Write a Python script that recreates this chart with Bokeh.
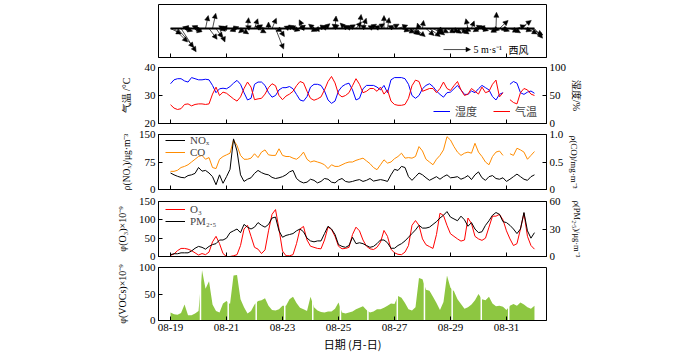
import numpy as np
from bokeh.plotting import figure
from bokeh.models import (Range1d, LinearAxis, FixedTicker, Legend, LegendItem,
                          Arrow, NormalHead, ColumnDataSource, Label)
from bokeh.layouts import column
from bokeh.embed import file_html
from bokeh.resources import INLINE

nan = float("nan")

# ---------------- data ----------------
tick_days = [0, 2, 4, 6, 8, 10, 12]
tick_labels = ["08-19", "08-21", "08-23", "08-25", "08-27", "08-29", "08-31"]

n_steps = 105            # 3-hourly samples, 08-19 00:00 .. 09-01 00:00
step_hours = 3
t = np.arange(n_steps) * step_hours / 24.0   # days since 08-19 00:00

temp = [26.7, 25.5, 25.0, 25.3, 26.8, 27.0, 26.3, 26.8, 27.0, 27.0,
        26.8, 27.0, 30.5, 33.0, 30.0, 31.2, 30.8, 29.8, 28.8, 28.0,
        29.5, 32.5, 34.8, 33.0, 28.5, 28.8, 29.0, 30.5, 32.8, 34.2,
        33.5, 30.0, 28.5, 29.8, 30.5, 31.5, 33.5, 35.0, 34.5, 31.5,
        29.0, 28.3, 28.8, 29.5, 32.0, 35.0, 36.8, 34.5, 30.5, 29.5,
        30.0, 31.0, 33.5, 36.0, 34.0, 31.0, 31.5, 32.5, 32.5, 31.5,
        33.0, 30.5, 32.0, 28.0, 26.8, 26.5, 26.5, 26.8, 29.0, 33.5,
        35.5, 35.0, 31.5, 32.0, 32.5, 32.5, 31.0, 32.5, 34.8, 32.5,
        31.8, 33.5, 35.0, 32.0, 30.0, 30.5, 32.5, 31.5, 30.5, 33.0,
        31.0, 31.5, 34.0, 35.5, 29.5, 31.0, nan, 28.5, 27.5, 27.0,
        31.0, 32.5, 32.0, 30.5, 30.0]

humidity = [71, 78, 80, 80, 76, 74, 82, 80, 78, 78,
            79, 78, 68, 55, 62, 63, 62, 66, 72, 77,
            70, 55, 42, 45, 70, 74, 74, 68, 55, 47,
            50, 60, 64, 64, 66, 62, 52, 42, 40, 48,
            65, 70, 70, 68, 58, 42, 36, 40, 58, 66,
            70, 72, 60, 42, 45, 62, 68, 68, 68, 65,
            60, 68, 55, 78, 82, 82, 82, 80, 70, 50,
            45, 50, 62, 68, 71, 66, 58, 52, 47, 55,
            56, 62, 68, 60, 52, 52, 58, 55, 62, 68,
            64, 60, 48, 42, 52, 55, nan, 70, 75, 72,
            55, 52, 56, 58, 54]

nox = [45, 40, 36, 33, 32, 38, 40, 44, 60, 50,
       52, 45, 35, 13, 40, 17, 35, 55, 138, 105,
       40, 22, 28, 32, 44, 52, 46, 42, 40, 33,
       30, 32, 35, 40, 48, 52, 30, 22, 18, 20,
       28, 25, 18, 22, 30, 28, 20, 18, 26, 30,
       22, 20, 22, 25, 27, 22, 25, 30, 23, 25,
       27, 25, 22, 40, 55, 52, 63, 60, 35, 25,
       35, 45, 40, 32, 25, 30, 35, 28, 35, 40,
       32, 33, 35, 28, 32, 38, 27, 40, 48, 32,
       25, 35, 38, 30, 28, 32, 22, 28, 35, 42,
       35, 28, 25, 35, 40]

co = [0.33, 0.33, 0.35, 0.40, 0.42, 0.45, 0.50, 0.55, 0.60, 0.62,
      0.55, 0.58, 0.40, 0.38, 0.55, 0.60, 0.63, 0.66, 0.90, 0.80,
      0.62, 0.55, 0.55, 0.57, 0.65, 0.58, 0.68, 0.72, 0.63, 0.62,
      0.62, 0.74, 0.62, 0.60, 0.60, 0.57, 0.55, 0.60, 0.68, 0.55,
      0.50, 0.52, 0.50, 0.48, 0.45, 0.38, 0.45, 0.42, 0.42, 0.45,
      0.48, 0.50, 0.50, 0.53, 0.55, 0.57, 0.52, 0.47, 0.40, 0.36,
      0.45, 0.54, 0.48, 0.50, 0.56, 0.60, 0.66, 0.57, 0.58, 0.57,
      0.60, 0.78, 0.70, 0.55, 0.50, 0.45, 0.55, 0.62, 0.72, 0.96,
      0.90, 0.78, 0.68, 0.62, 0.66, 0.68, 0.66, 0.84, 0.68, 0.60,
      0.50, 0.45, 0.60, 0.68, 0.70, 0.62, nan, 0.65, 0.62, 0.75,
      0.72, 0.68, 0.55, 0.62, 0.69]

o3 = [3, 7, 16, 22, 22, 20, 16, 10, 4, 8,
      5, 12, 40, 55, 35, 8, 0, 0, 2, 5,
      30, 75, 85, 55, 25, 20, 8, 18, 70, 115,
      128, 75, 15, 2, 2, 5, 35, 75, 82, 45,
      28, 25, 22, 21, 45, 80, 74, 55, 28, 21,
      22, 25, 60, 80, 70, 45, 28, 21, 19, 25,
      39, 71, 55, 20, 10, 6, 5, 12, 30, 85,
      98, 85, 48, 32, 27, 22, 60, 118, 112, 85,
      62, 55, 48, 42, 45, 105, 90, 55, 48, 44,
      50, 80, 110, 110, 115, 100, 70, 48, 30, 35,
      75, 118, 55, 30, 20]

pm25 = [2, 3, 3, 4, 4, 4, 6, 9, 11, 10,
        8, 11, 13, 14, 18, 18, 20, 26, 28, 30,
        26, 35, 32, 30, 32, 37, 34, 32, 35, 42,
        43, 28, 21, 23, 24, 25, 28, 30, 27, 20,
        17, 16, 17, 17, 25, 33, 30, 24, 13, 11,
        10, 12, 21, 14, 15, 14, 12, 10, 11, 14,
        18, 18, 15, 9, 9, 12, 14, 17, 21, 25,
        29, 34, 31, 31, 32, 35, 38, 42, 45, 49,
        43, 41, 39, 44, 40, 33, 37, 30, 26, 27,
        34, 39, 45, 48, 46, 38, 37, 34, 30, 25,
        30, 48, 28, 20, 26]

vocs = [15, 12, 11, 14, 30, 10, 10, 13, 18, 95,
        60, 74, 30, 18, 15, 32, 37, 31, 85, 86,
        40, 25, 13, 18, 30, 37, 38, 42, 28, 20,
        19, 21, 28, 28, 40, 45, 33, 24, 21, 18,
        45, 25, 19, 16, 15, 17, 17, 22, 34, 15,
        13, 15, 17, 21, 24, 27, 20, 15, 17, 21,
        21, 24, 28, 32, 31, 46, 43, 33, 21, 19,
        25, 80, 78, 58, 56, 45, 33, 20, 35, 85,
        62, 55, 40, 31, 22, 25, 30, 38, 50, 40,
        38, 45, 32, 27, 28, 26, 20, 28, 31, 28,
        34, 30, 25, 22, 28]

# times (days since 08-19 00:00) with missing VOC samples
voc_gap_days = [1.07, 2.06, 3.06, 4.08, 5.08, 6.07, 7.05, 8.10, 9.07, 10.06, 11.10, 12.08]

# wind components (m/s): u eastward (west wind > 0), v northward
wind_u = [2.0, 2.5, 3.0, 2.8, 1.5, -1.0, -1.5, 1.2, -1.2, -1.0,
          0.5, 1.5, 0.6, 1.2, 1.0, -0.8, -1.2, -1.5, 1.0, -1.3,
          1.5, -1.0, 0.2, -1.0, 0.6, 1.5, -1.2, -1.5, 0.0, 0.8,
          1.5, 1.0, -1.2, 1.5, -1.0, 1.3, -1.2, 1.0, -0.8, -1.4,
          1.2, -1.0, 1.5, -1.3, 1.0, -1.2, 1.4, 0.2, -1.2, 1.3,
          -1.0, 1.2, -1.3, 1.0, 0.3, 0.6, -1.1, 1.2, -1.0, 1.4,
          -1.2, 0.0, 0.3, 1.5, -1.2, 1.8, 1.5, 1.8, 2.0, 1.6,
          1.8, -0.3, 0.2, 1.5, 2.0, 1.8, 1.5, 1.6, -1.2, 1.5,
          1.6, 1.4, 1.8, 1.5, 1.2, -0.4, 0.5, 1.3, -1.0, 1.2,
          -1.1, 1.4, 1.3, 0.1, 1.6, 1.2, -1.0, 1.5, 1.3, 1.6,
          2.0, 1.4, 1.8, 2.2, 1.5]
wind_v = [-1.0, -2.5, -3.5, -4.3, -0.5, 0.3, 0.2, -0.3, 0.5, -0.8,
          2.4, -2.0, 2.8, -1.7, -2.5, 0.5, -0.3, 0.2, 0.3, -0.5,
          -1.0, -0.8, 2.0, 0.5, 1.8, -0.8, 0.4, 0.6, 1.2, 1.9,
          -3.8, -1.5, -0.5, 0.5, 0.4, -0.4, 0.3, 0.6, 1.6, 0.2,
          -0.5, 0.8, 0.5, -0.3, 0.9, 0.4, 0.6, 2.3, 0.8, 0.5,
          1.0, 0.7, 0.4, 1.2, 2.6, 1.9, 0.6, 0.8, 0.5, 0.9,
          0.4, 2.4, 2.0, 0.8, 0.5, 0.6, -0.5, -0.8, -1.0, -1.2,
          -1.5, 1.0, 1.5, -1.3, -1.5, -1.0, -1.2, -0.8, -0.5, -0.8,
          -0.6, -0.9, -0.7, -1.0, -0.5, 1.8, 1.4, 0.5, -0.6, -0.4,
          0.4, -0.7, -0.3, 3.0, 1.5, -0.5, -0.3, -0.6, -0.8, 0.6,
          1.5, -0.5, -1.0, -1.2, -1.8]
key_speed = 5  # m/s reference arrow

# ---------------- style ----------------
SERIF = "Liberation Serif"
CJK = "Noto Sans CJK SC"
RED = "#ff0000"
BLUE = "#0000ff"
ORANGE = "#ff8c00"
GREEN = "#8dc641"

WIND_K = 0.193  # days of x per m/s so that arrows keep equal x/y scale
X0, X1 = -0.43, 13.43

xr = Range1d(X0, X1)


def style_axis(ax, ticks, labels=True, font_size="11px"):
    ax.ticker = FixedTicker(ticks=ticks)
    ax.major_tick_in = 4
    ax.major_tick_out = 0
    ax.minor_tick_line_color = None
    ax.axis_line_color = "black"
    ax.major_tick_line_color = "black"
    ax.major_label_text_font = SERIF
    ax.major_label_text_font_size = font_size
    ax.axis_label_text_font = SERIF
    ax.axis_label_text_font_size = "10px"
    ax.axis_label_text_font_style = "normal"
    ax.axis_label_text_color = "black"
    if labels:
        ax.major_label_text_color = "black"
        ax.major_label_standoff = 3
    else:
        ax.major_label_text_color = None
        ax.major_label_standoff = -30


def base_fig(height, top, bottom, y0, y1, show_xlabels=False):
    p = figure(width=700, height=height, x_range=xr, y_range=Range1d(y0, y1),
               output_backend="svg", toolbar_location=None, title=None,
               min_border_left=158, min_border_right=154,
               min_border_top=top, min_border_bottom=bottom)
    p.xgrid.visible = False
    p.ygrid.visible = False
    p.outline_line_color = "black"
    p.outline_line_width = 1
    p.outline_line_alpha = 1
    p.background_fill_color = "white"
    p.border_fill_color = "white"
    xa = p.xaxis[0]
    style_axis(xa, tick_days, labels=show_xlabels)
    xa.major_label_overrides = {d: l for d, l in zip(tick_days, tick_labels)}
    return p


def right_axis(p, rng, ticks, title, standoff, size="10px"):
    p.extra_y_ranges = {"r": rng}
    ax = LinearAxis(y_range_name="r")
    style_axis(ax, ticks)
    ax.axis_label = title
    ax.axis_label_standoff = standoff
    ax.axis_label_text_font_size = size
    p.add_layout(ax, "right")
    return ax


def legend(items, loc, orientation="vertical", font=SERIF, spacing=0, glyph_w=20, lh=10):
    lg = Legend(items=items, location=loc, orientation=orientation,
                label_text_font=font, label_text_font_size="11px",
                glyph_width=glyph_w, glyph_height=lh, label_height=lh, label_width=30,
                label_standoff=5, spacing=spacing, padding=0, margin=0,
                border_line_alpha=0, background_fill_alpha=0)
    return lg


# ---- panel 1: wind vectors ----
p1 = base_fig(62, 4, 5, -5.37, 4.44)
p1.yaxis.visible = False
p1.line(t, np.zeros(n_steps), line_color="black", line_width=2.2)
src = ColumnDataSource(dict(
    x0=t, y0=np.zeros(n_steps),
    x1=t + np.array(wind_u) * WIND_K, y1=np.array(wind_v)))
p1.add_layout(Arrow(end=NormalHead(size=5, fill_color="black", line_color="black", line_width=0.5),
                    x_start="x0", y_start="y0", x_end="x1", y_end="y1", source=src,
                    line_color="black", line_width=0.7))
key_x, key_y = 9.75, -3.9
p1.add_layout(Arrow(end=NormalHead(size=4.5, fill_color="black", line_color="black", line_width=0.5),
                    x_start=key_x, y_start=key_y, x_end=key_x + key_speed * WIND_K, y_end=key_y,
                    line_color="black", line_width=0.7))
p1.add_layout(Label(x=10.82, y=key_y, text="5 m·s⁻¹", text_font=SERIF, text_font_size="10px",
                    text_baseline="middle", text_color="black"))
p1.add_layout(Label(x=12.07, y=key_y, text="西风", text_font=CJK, text_font_size="10px",
                    text_baseline="middle", text_color="black"))

# ---- panel 2: temperature / humidity ----
p2 = base_fig(66, 5, 5, 20, 40)
style_axis(p2.yaxis[0], [20, 30, 40])
p2.yaxis[0].axis_label = "气温 /°C"
p2.yaxis[0].axis_label_standoff = 10
right_axis(p2, Range1d(0, 100), [0, 50, 100], "湿度/%", 2)
r_hum = p2.line(t, humidity, y_range_name="r", line_color=BLUE, line_width=1)
r_temp = p2.line(t, temp, line_color=RED, line_width=1)
p2.add_layout(legend([LegendItem(label="湿度", renderers=[r_hum]),
                      LegendItem(label="气温", renderers=[r_temp])],
                     (275, 4), orientation="horizontal", font=CJK, spacing=8, glyph_w=17))

# ---- panel 3: NOx / CO ----
p3 = base_fig(67, 6, 6, 0, 150)
style_axis(p3.yaxis[0], [0, 75, 150])
p3.yaxis[0].axis_label = "ρ(NOₓ)/μg·m⁻³"
p3.yaxis[0].axis_label_standoff = 4
p3.yaxis[0].axis_label_text_font_size = "9.5px"
ax3r = right_axis(p3, Range1d(0, 1.0), [0, 0.5, 1.0], "ρ(CO)/mg·m⁻³", 3, size="9px")
ax3r.major_label_overrides = {0: "0", 0.5: "0.5", 1.0: "1.0"}
r_co = p3.line(t, co, y_range_name="r", line_color=ORANGE, line_width=1)
r_nox = p3.line(t, nox, line_color="black", line_width=1)
p3.add_layout(legend([LegendItem(label="NOₓ", renderers=[r_nox]),
                      LegendItem(label="CO", renderers=[r_co])], (7, 31)))

# ---- panel 4: O3 / PM2.5 ----
p4 = base_fig(66, 6, 5, 0, 150)
style_axis(p4.yaxis[0], [0, 50, 100, 150])
p4.yaxis[0].axis_label = "φ(O₃)×10⁻⁹"
p4.yaxis[0].axis_label_standoff = 8
right_axis(p4, Range1d(0, 60), [0, 30, 60], "ρ(PM₂.₅)/μg·m⁻³", 8, size="8.5px")
r_o3 = p4.line(t, o3, line_color=RED, line_width=1)
r_pm = p4.line(t, pm25, y_range_name="r", line_color="black", line_width=1)
p4.add_layout(legend([LegendItem(label="O₃", renderers=[r_o3]),
                      LegendItem(label="PM₂.₅", renderers=[r_pm])], (7, 29), lh=12))

# ---- panel 5: VOCs ----
p5 = base_fig(93, 6, 32, 0, 100, show_xlabels=True)
style_axis(p5.yaxis[0], [0, 50, 100])
p5.yaxis[0].axis_label = "φ(VOCs)×10⁻⁹"
p5.yaxis[0].axis_label_standoff = 8
p5.varea(x=t, y1=0, y2=vocs, fill_color=GREEN)
p5.segment(x0=voc_gap_days, y0=0, x1=voc_gap_days, y1=99,
           line_color="white", line_width=1.5)
p5.xaxis[0].axis_label = "日期 (月-日)"
p5.xaxis[0].axis_label_text_font = CJK
p5.xaxis[0].axis_label_text_font_size = "11px"
p5.xaxis[0].axis_label_standoff = 2

layout = column(p1, p2, p3, p4, p5)
open("out.html", "w").write(file_html(layout, INLINE))
